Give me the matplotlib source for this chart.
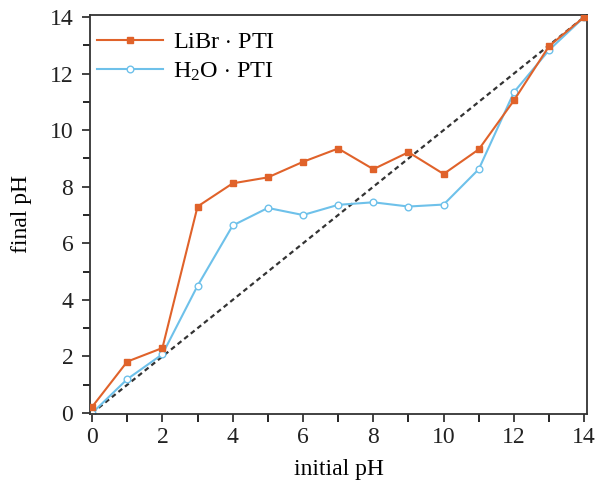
import matplotlib
matplotlib.use('Agg')
import matplotlib.pyplot as plt
import numpy as np
from matplotlib.ticker import MultipleLocator

plt.rcParams['font.family'] = 'serif'
plt.rcParams['font.serif'] = ['Liberation Serif', 'DejaVu Serif']
plt.rcParams['mathtext.fontset'] = 'custom'
plt.rcParams['mathtext.rm'] = 'Liberation Serif'
plt.rcParams['mathtext.it'] = 'Liberation Serif:italic'

# data
initial_ph = [0, 1, 2, 3, 4, 5, 6, 7, 8, 9, 10, 11, 12, 13, 14]
libr_pti = [0.22, 1.82, 2.3, 7.3, 8.12, 8.33, 8.88, 9.35, 8.62, 9.22, 8.45, 9.32, 11.05, 12.97, 14.0]
h2o_pti = [0.0, 1.2, 2.08, 4.5, 6.63, 7.25, 7.0, 7.36, 7.45, 7.3, 7.37, 8.62, 11.34, 12.83, 14.0]
diag = [0, 14]

fig = plt.figure(figsize=(5.96, 4.83), dpi=100)
ax = fig.add_axes([0.151, 0.143, 0.834, 0.826])

ax.plot(diag, diag, color='#333333', linestyle=(0, (2.2, 1.6)), linewidth=1.6, zorder=1)
ax.plot(initial_ph, libr_pti, color='#E0622A', marker='s', markersize=4.8, linewidth=1.5,
        label='LiBr $\\cdot$ PTI', zorder=3)
ax.plot(initial_ph, h2o_pti, color='#6EC1EA', marker='o', markersize=4.8, markerfacecolor='white',
        markeredgewidth=1.0, linewidth=1.5, label='H$_2$O $\\cdot$ PTI', zorder=2)

ax.set_xlim(-0.06, 14.08)
ax.set_ylim(-0.03, 14.07)
ax.xaxis.set_major_locator(MultipleLocator(2))
ax.xaxis.set_minor_locator(MultipleLocator(1))
ax.yaxis.set_major_locator(MultipleLocator(2))
ax.yaxis.set_minor_locator(MultipleLocator(1))
ax.tick_params(which='major', direction='out', length=6, width=1.2, labelsize=17, colors='#222222')
ax.tick_params(axis='y', which='major', pad=6)
ax.tick_params(which='minor', direction='out', length=5, width=1.2)
ax.tick_params(axis='x', which='minor', length=6)
for s in ax.spines.values():
    s.set_linewidth(1.3)
    s.set_color('#333333')

ax.set_xlabel('initial pH', fontsize=17, labelpad=8)
ax.set_ylabel('final pH', fontsize=17, labelpad=13)

ax.legend(loc='upper left', bbox_to_anchor=(0.0, 0.977), frameon=False, fontsize=17.5,
          handlelength=2.7, borderaxespad=0, borderpad=0.3, labelspacing=0.3,
          handletextpad=0.42)

plt.savefig('out.png', dpi=100)
